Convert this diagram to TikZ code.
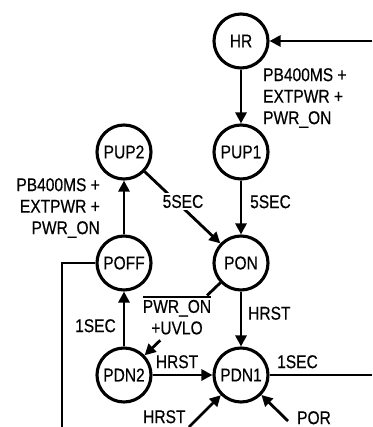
\documentclass[tikz,border=0pt]{standalone}
\usepackage{fontspec}
\setmainfont{Liberation Sans}[FakeStretch=0.84,FakeBold=0.4]
\usetikzlibrary{arrows.meta,calc}
\newcommand{\lblfont}{\fontsize{18.5}{21.5}\selectfont}
\newcommand{\ovlbar}[1]{\setbox0\hbox{#1}\rlap{\rule[\dimexpr\ht0+2.2pt\relax]{\wd0}{1.5pt}}\box0}
\begin{document}
\begin{tikzpicture}[x=1pt,y=-1pt,
  st/.style={circle, draw, line width=3.1pt, minimum size=54pt, inner sep=0pt, font=\lblfont},
  conn/.style={line width=2.8pt},
  arr/.style={conn, -{Triangle[length=11pt,width=11pt]}},
  lbl/.style={inner sep=0pt, font=\lblfont}]
\useasboundingbox (0,0) rectangle (372,427);
% states
\node[st] (HR)   at (241,41)  {HR};
\node[st] (PUP1) at (241,152) {PUP1};
\node[st] (PUP2) at (124,152) {PUP2};
\node[st] (POFF) at (124,263) {POFF};
\node[st] (PON)  at (241,263) {PON};
\node[st] (PDN2) at (124,375) {PDN2};
\node[st] (PDN1) at (241,375) {PDN1};
% free ends
\coordinate (hrin) at (372,41);
\coordinate (offl) at (62,263);
\coordinate (offb) at (62,427);
\coordinate (pdout) at (372,375);
\coordinate (hrstin) at (189,427);
\coordinate (porin) at (288,421);
\coordinate (c1) at ($(PON)!0.29!(PDN2)$);
\coordinate (c2) at ($(PON)!0.69!(PDN2)$);
% connectors
\draw[arr] (hrin) -- (HR);
\draw[arr] (HR) -- (PUP1);
\draw[arr] (PUP1) -- (PON);
\draw[arr] (PUP2) -- (PON);
\draw[arr] (POFF) -- (PUP2);
\draw[conn] (POFF) -- (offl) -- (offb);
\draw[arr] (PON) -- (PDN1);
\draw[conn] (PON) -- (c1);
\draw[arr] (c2) -- (PDN2);
\draw[arr] (PDN2) -- (POFF);
\draw[arr] (PDN2) -- (PDN1);
\draw[conn] (PDN1) -- (pdout);
\draw[arr] (hrstin) -- (PDN1);
\draw[arr] (porin) -- (PDN1);
% labels
\node[lbl, anchor=north west, align=left] (l1) at (263,68) {PB400MS +\\EXTPWR +\\PWR\_ON};
\node[lbl, anchor=north east, align=right] (l2) at (100,178) {PB400MS +\\EXTPWR +\\PWR\_ON};
\node[lbl, anchor=north west] (l3) at (250,195) {5SEC};
\node[lbl, fill=white, inner sep=2pt] (l4) at (183,201.5) {5SEC};
\node[lbl, anchor=north west] (l5) at (248,306.5) {HRST};
\node[lbl, anchor=north, align=center] (l6) at (177,296) {\ovlbar{PWR\_ON}\\+UVLO};
\node[lbl, anchor=north east] (l7) at (116,319) {1SEC};
\node[lbl, anchor=north] (l8) at (177,355) {HRST};
\node[lbl, anchor=north west] (l9) at (277,355) {1SEC};
\node[lbl, anchor=north west] (l10) at (143,410) {HRST};
\node[lbl, anchor=north west] (l11) at (297,411) {POR};
\end{tikzpicture}
\end{document}
